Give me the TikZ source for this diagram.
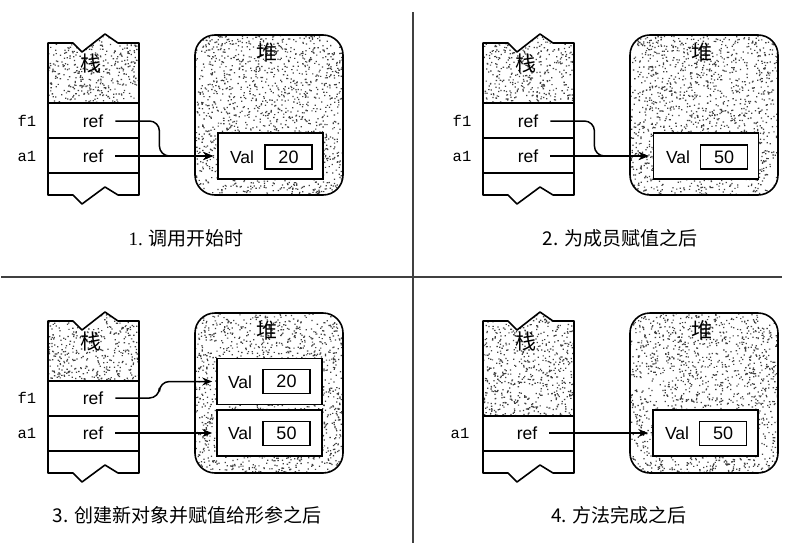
\documentclass[tikz,border=0pt]{standalone}
\usepackage{fontspec}
\setmainfont{Liberation Sans}
\setmonofont{Liberation Mono}
\newfontfamily\cjk{Noto Sans CJK SC}
\newfontfamily\numserif{Liberation Serif}
\usetikzlibrary{arrows.meta}

% random specks inside a box: xmin, ymin, xmax, ymax, count
\newcommand\speckle[5]{%
  \fill[speck] \foreach \k in {1,...,#5}{({#1+(#3-#1)*rnd},{#2+(#4-#2)*rnd}) rectangle ++(1.3,1.2)};}

\begin{document}
\begin{tikzpicture}[x=1pt,y=-1pt,
    outline/.style={line width=1.6pt,line join=round},
    speck/.style={fill=black!75},
    divider/.style={line width=1.2pt,black!75},
    objbox/.style={draw,fill=white,line width=1.6pt,minimum width=105pt,minimum height=46pt,inner sep=0pt},
    valbox/.style={draw,fill=white,line width=1.6pt,minimum width=47pt,minimum height=24pt,inner sep=0pt,font=\fontsize{18}{18}\selectfont},
    field/.style={inner sep=0pt,font=\fontsize{17.5}{17.5}\selectfont},
    var/.style={inner sep=0pt,font=\ttfamily\fontsize{15.5}{15.5}\selectfont},
    hanzi/.style={inner sep=0pt,font=\cjk\fontsize{21}{21}\selectfont},
    caption/.style={inner sep=0pt,font=\cjk\fontsize{19}{19}\selectfont},
    ptr/.style={line width=1.5pt,-{Stealth[length=10pt,width=8pt]},shorten <=12pt,shorten >=4pt}]
  \pgfmathsetseed{3}
  \useasboundingbox (0,0) rectangle (797,546);

  % Dividers between the four panels
  \draw[divider] (413,12) -- (413,543);
  \draw[divider] (1,277) -- (782,277);

  % Stack and heap of each panel
  \foreach \dx/\dy/\gray/\num/\n in {0/0/103/420/1, 435/0/103/420/2, 0/278/103/420/3, 435/278/138/650/4} {
    \begin{scope}[shift={(\dx,\dy)}]
      % speckled top of the stack
      \begin{scope}
        \clip (48,\gray) -- (48,43) -- (73,43) -- (82,52) -- (105,34) -- (118,43) -- (139,43) -- (139,\gray) -- cycle;
        \speckle{48}{34}{139}{\gray}{\num}
      \end{scope}
      % speckled heap
      \begin{scope}
        \clip[rounded corners=20pt] (195,35) rectangle (343,195);
        \speckle{195}{35}{343}{195}{1500}
      \end{scope}
      \draw[outline,rounded corners=20pt] (195,35) rectangle (343,195);
      % stack outline and rows
      \draw[outline] (48,43) -- (73,43) -- (82,52) -- (105,34) -- (118,43) -- (139,43) -- (139,195)
        -- (118,195) -- (105,187) -- (82,204) -- (73,195) -- (48,195) -- cycle;
      \draw[outline] (48,\gray) -- (139,\gray) (48,138) -- (139,138) (48,173) -- (139,173);
      \node[hanzi] (stk\n) at (91,64) {栈};
      \node[hanzi] (heap\n) at (267,53) {堆};
    \end{scope}
  }

  % Panel 1
  \node[var] (f1n1) at (27,121) {f1};
  \node[var] (a1n1) at (27,156) {a1};
  \node[field] (f1r1) at (93,121) {ref};
  \node[field] (a1r1) at (93,156) {ref};
  \node[objbox] (obj1) at (270.5,156) {};
  \node[field] (val1) at (242,157) {Val};
  \node[valbox] (num1) at (288.5,157) {20};
  \draw[ptr,rounded corners=10pt] (f1r1.east) -- ++(56,0) |- (obj1.west);
  \draw[ptr] (a1r1.east) -- (obj1.west);
  \node[caption] (cap1) at (186,238) {{\numserif 1.} 调用开始时};

  % Panel 2
  \node[var] (f1n2) at (462,121) {f1};
  \node[var] (a1n2) at (462,156) {a1};
  \node[field] (f1r2) at (528,121) {ref};
  \node[field] (a1r2) at (528,156) {ref};
  \node[objbox] (obj2) at (706,156) {};
  \node[field] (val2) at (678,157) {Val};
  \node[valbox] (num2) at (724,157) {50};
  \draw[ptr,rounded corners=10pt] (f1r2.east) -- ++(56,0) |- (obj2.west);
  \draw[ptr] (a1r2.east) -- (obj2.west);
  \node[caption] (cap2) at (620,238) {2. 为成员赋值之后};

  % Panel 3
  \node[var] (f1n3) at (27,398) {f1};
  \node[var] (a1n3) at (27,433) {a1};
  \node[field] (f1r3) at (93,398) {ref};
  \node[field] (a1r3) at (93,433) {ref};
  \node[objbox] (obj3a) at (269.5,381.5) {};
  \node[field] (val3a) at (240,382) {Val};
  \node[valbox] (num3a) at (286.5,381.5) {20};
  \node[objbox] (obj3b) at (269.5,433) {};
  \node[field] (val3b) at (240,433) {Val};
  \node[valbox] (num3b) at (286.5,433.5) {50};
  \draw[ptr,rounded corners=10pt] (f1r3.east) -- ++(56,0) |- (obj3a.west);
  \draw[ptr] (a1r3.east) -- (obj3b.west);
  \node[caption] (cap3) at (187,515) {3. 创建新对象并赋值给形参之后};

  % Panel 4
  \node[var] (a1n4) at (460,433) {a1};
  \node[field] (a1r4) at (527,433) {ref};
  \node[objbox] (obj4) at (705.5,433) {};
  \node[field] (val4) at (677,433) {Val};
  \node[valbox] (num4) at (723,433.5) {50};
  \draw[ptr] (a1r4.east) -- (obj4.west);
  \node[caption] (cap4) at (619,515) {4. 方法完成之后};
\end{tikzpicture}
\end{document}
